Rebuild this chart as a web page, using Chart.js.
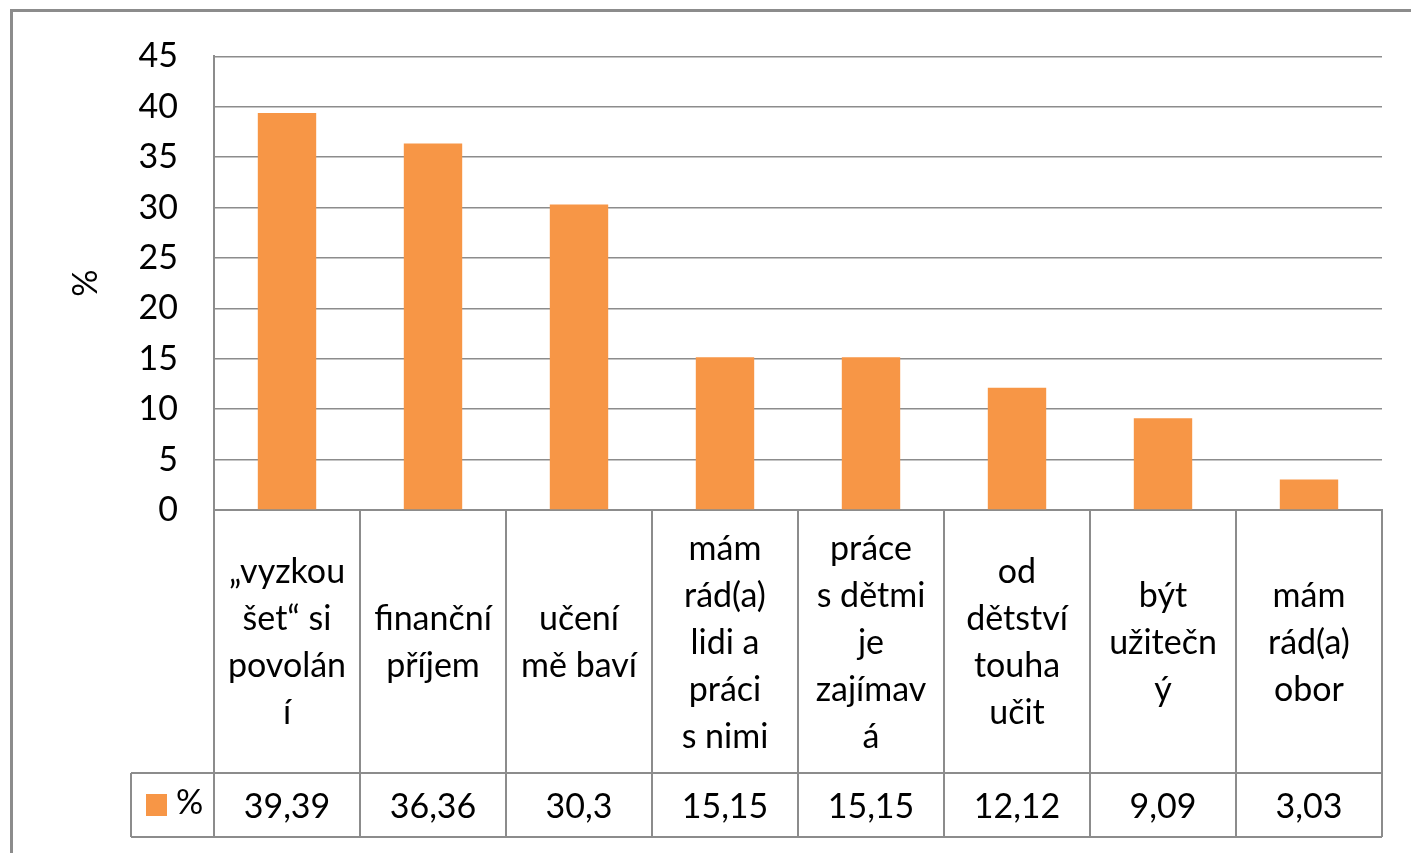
<!DOCTYPE html>
<html>
<head>
<meta charset="utf-8">
<script src="https://cdn.jsdelivr.net/npm/chart.js@4/dist/chart.umd.min.js"></script>
<style>
	html, body { margin: 0; padding: 0; background: #fff; overflow: hidden; }
	#chart { position: absolute; left: 0; top: 0; }
	#frame { position: absolute; left: 10px; top: 9px; width: 1500px; height: 1000px; border: 3px solid #8c8c8c; pointer-events: none; }
</style>
</head>
<body>
<canvas id="chart" width="1411" height="853"></canvas>
<div id="frame"></div>
<script>
// categories as they wrap in the table cells
const categories = [
	["„vyzkou", "šet“ si", "povolán", "í"],
	["finanční", "příjem"],
	["učení", "mě baví"],
	["mám", "rád(a)", "lidi a", "práci", "s nimi"],
	["práce", "s dětmi", "je", "zajímav", "á"],
	["od", "dětství", "touha", "učit"],
	["být", "užitečn", "ý"],
	["mám", "rád(a)", "obor"]
];
const values = [39.39, 36.36, 30.3, 15.15, 15.15, 12.12, 9.09, 3.03];
const seriesName = "%";
const yMax = 45;
const yStep = 5;

const barColor = "#F79646";
const lineColor = "#8c8c8c";
const fontFamily = "Lato, 'Open Sans', sans-serif";

// draws the data table under the x axis (cell borders, values row, legend key)
const dataTable = {
	id: "dataTable",
	afterDraw(chart, args, opts){
		const ctx = chart.ctx;
		const x = chart.scales.x;
		const n = chart.data.labels.length;
		const cw = x.width / n;
		const rowTop = x.bottom;
		const rowBottom = rowTop + opts.rowHeight;
		const keyLeft = opts.keyLeft;

		ctx.save();
		ctx.strokeStyle = lineColor;
		ctx.lineWidth = 2;
		ctx.beginPath();
		for(let i = 0; i <= n; i++){
			let px = Math.round(x.left + i * cw);
			ctx.moveTo(px, x.top);
			ctx.lineTo(px, rowBottom);
		}
		ctx.moveTo(keyLeft, rowTop);
		ctx.lineTo(x.right, rowTop);
		ctx.moveTo(keyLeft, rowBottom);
		ctx.lineTo(x.right, rowBottom);
		ctx.moveTo(keyLeft, rowTop);
		ctx.lineTo(keyLeft, rowBottom);
		ctx.stroke();

		ctx.font = "34px " + fontFamily;
		ctx.fillStyle = "#000";
		ctx.textAlign = "center";
		ctx.textBaseline = "middle";
		let cy = (rowTop + rowBottom) / 2;
		let ds = chart.data.datasets[0];
		ds.data.forEach(function(v, i){
			ctx.fillText(String(v).replace(".", ","), x.getPixelForValue(i), cy + 2);
		});

		// legend key
		ctx.fillStyle = ds.backgroundColor;
		ctx.fillRect(keyLeft + 15, cy - 11, 21, 22);
		ctx.fillStyle = "#000";
		ctx.textAlign = "left";
		ctx.fillText(ds.label, keyLeft + 45, cy - 2);
		ctx.restore();
	}
};

new Chart(document.getElementById("chart").getContext("2d"), {
	type: "bar",
	data: {
		labels: categories,
		datasets: [{
			label: seriesName,
			data: values,
			backgroundColor: barColor,
			barPercentage: 0.4,
			categoryPercentage: 1.0
		}]
	},
	options: {
		responsive: false,
		animation: false,
		layout: { padding: { left: 0, top: 55, right: 29, bottom: 80 } },
		plugins: {
			legend: { display: false },
			tooltip: { enabled: false },
			dataTable: { rowHeight: 64, keyLeft: 131 }
		},
		scales: {
			x: {
				grid: { display: false },
				border: { display: true, color: lineColor, width: 2 },
				ticks: {
					color: "#000",
					font: { family: fontFamily, size: 34, lineHeight: "47px" },
					crossAlign: "center",
					padding: 31,
					maxRotation: 0,
					minRotation: 0,
					autoSkip: false
				},
				afterFit: function(s){ s.height = 263; }
			},
			y: {
				min: 0,
				max: yMax,
				grid: { color: lineColor, lineWidth: 1.5, drawTicks: false },
				border: { display: true, color: lineColor, width: 2 },
				ticks: {
					stepSize: yStep,
					color: "#000",
					padding: 36,
					font: { family: fontFamily, size: 34 }
				},
				title: {
					display: true,
					text: seriesName,
					color: "#000",
					font: { family: fontFamily, size: 34 },
					padding: { top: 66, bottom: 0 }
				},
				afterFit: function(s){ s.width = 214; }
			}
		}
	},
	plugins: [dataTable]
});
</script>
</body>
</html>
